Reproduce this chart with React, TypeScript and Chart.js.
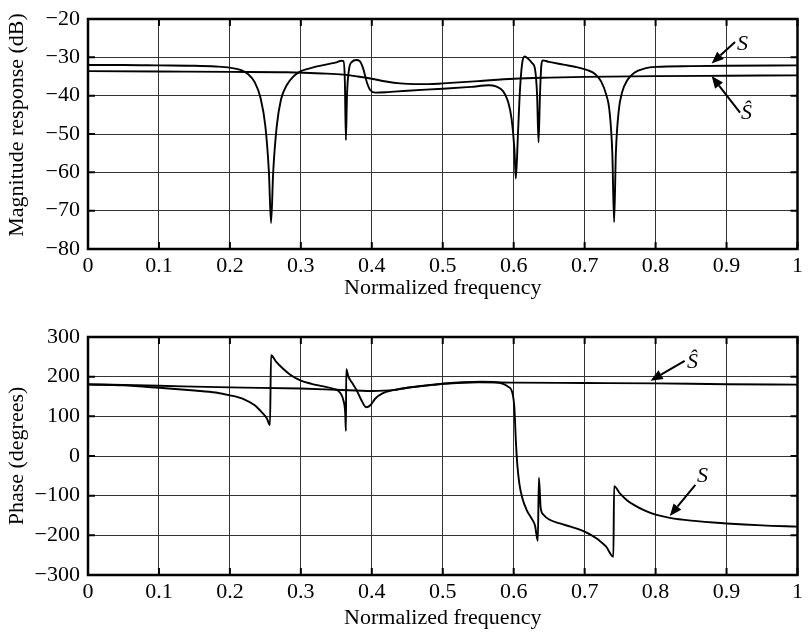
import React, { useEffect, useRef } from "react";
import { Chart, registerables } from "chart.js";

Chart.register(...registerables);

const FONT = "'Liberation Serif', 'Times New Roman', serif";

// ---- tick values ----
const freqTicks = [0, 0.1, 0.2, 0.3, 0.4, 0.5, 0.6, 0.7, 0.8, 0.9, 1];
const magTicks = [-80, -70, -60, -50, -40, -30, -20];
const phaseTicks = [-300, -200, -100, 0, 100, 200, 300];

// ---- magnitude response, S ----
const sMagFreq = [
  0, 0.05, 0.1, 0.15, 0.18, 0.2, 0.215, 0.225, 0.235, 0.243, 0.25, 0.255, 0.258, 0.261, 0.266, 0.272, 0.28,
  0.29, 0.3, 0.31, 0.32, 0.33, 0.34, 0.35, 0.357, 0.36, 0.362, 0.3635, 0.365, 0.368, 0.372, 0.378, 0.383,
  0.388, 0.393, 0.398, 0.405, 0.42, 0.45, 0.5, 0.54, 0.565, 0.575, 0.585, 0.592, 0.597, 0.601, 0.603, 0.606,
  0.609, 0.612, 0.6155, 0.62, 0.626, 0.63, 0.633, 0.635, 0.637, 0.639, 0.641, 0.65, 0.67, 0.69, 0.705, 0.715,
  0.723, 0.73, 0.735, 0.739, 0.7415, 0.744, 0.748, 0.753, 0.76, 0.77, 0.785, 0.8, 0.85, 0.9, 1.0,
];
const sMagDb = [
  -32.0, -32.0, -32.1, -32.2, -32.4, -32.7, -33.3, -34.3, -36.5, -40.5, -48, -60, -73.2, -60, -48, -41, -37.3,
  -34.9, -33.6, -33.0, -32.5, -32.1, -31.7, -31.3, -30.9, -31.0, -36, -51.6, -40, -33, -31.2, -30.7, -31.0,
  -33, -36.5, -38.6, -39.2, -39.1, -38.7, -38.2, -37.7, -37.3, -37.6, -38.8, -41.5, -46, -54, -61.6, -50,
  -38, -31.5, -29.8, -30.3, -31.5, -33, -40, -52.2, -40, -32, -30.8, -31.2, -31.9, -32.6, -33.4, -34.4,
  -36.2, -39.5, -44, -55, -73, -55, -44, -39, -36, -34, -32.9, -32.5, -32.3, -32.2, -32.1,
];

// ---- magnitude response, S-hat ----
const sHatMagFreq = [0, 0.1, 0.2, 0.28, 0.33, 0.36, 0.38, 0.4, 0.42, 0.44, 0.46, 0.48, 0.5, 0.55, 0.6, 0.65, 0.7, 0.8, 0.9, 1.0];
const sHatMagDb = [
  -33.6, -33.7, -33.8, -33.9, -34.2, -34.5, -35.0, -35.6, -36.3, -36.8, -37.0, -37.0, -36.8, -36.2, -35.6,
  -35.3, -35.1, -34.9, -34.8, -34.7,
];

// ---- phase, S ----
const sPhaseFreq = [
  0, 0.05, 0.1, 0.15, 0.18, 0.2, 0.22, 0.235, 0.245, 0.252, 0.2565, 0.258, 0.265, 0.275, 0.285, 0.3, 0.315,
  0.33, 0.345, 0.352, 0.357, 0.36, 0.3625, 0.3635, 0.364, 0.367, 0.372, 0.378, 0.385, 0.392, 0.398, 0.405,
  0.415, 0.43, 0.45, 0.5, 0.53, 0.555, 0.575, 0.585, 0.592, 0.598, 0.601, 0.603, 0.605, 0.608, 0.612, 0.618,
  0.625, 0.63, 0.634, 0.6355, 0.638, 0.642, 0.65, 0.665, 0.68, 0.695, 0.71, 0.72, 0.73, 0.7405, 0.7415, 0.75,
  0.76, 0.77, 0.785, 0.8, 0.82, 0.85, 0.9, 0.95, 1.0,
];
const sPhaseDeg = [
  180, 178, 172, 165, 160, 153, 143, 128, 110, 95, 78, 254, 238, 220, 205, 190, 182,
  176, 170, 165, 155, 140, 110, 63, 219, 200, 185, 168, 142, 123, 128, 145,
  158, 166, 172, 182, 186, 187, 186, 182, 175, 160, 120, 40, -20, -70, -105, -135,
  -157, -175, -214, -55, -130, -148, -160, -170, -178, -187, -200, -212, -228, -254, -76, -95,
  -112, -124, -138, -148, -156, -163, -170, -175, -178,
];

// ---- phase, S-hat ----
const sHatPhaseFreq = [0, 0.1, 0.2, 0.3, 0.35, 0.4, 0.43, 0.45, 0.48, 0.5, 0.55, 0.6, 0.7, 0.8, 0.9, 1.0];
const sHatPhaseDeg = [181, 177, 173, 170, 167, 164, 166, 172, 178, 182, 186, 185, 184, 183, 181, 180];

// ---- annotation arrows (data coordinates) ----
const magArrows = [
  { text: "S", labelX: 0.9225, labelY: -26.6, tailX: 0.912, tailY: -26.0, tipX: 0.879, tipY: -31.6 },
  { text: "\u015C", labelX: 0.928, labelY: -44.7, tailX: 0.919, tailY: -44.4, tipX: 0.879, tipY: -34.9 },
];
const phaseArrows = [
  { text: "\u015C", labelX: 0.852, labelY: 237, tailX: 0.841, tailY: 240, tipX: 0.793, tipY: 190 },
  { text: "S", labelX: 0.866, labelY: -52, tailX: 0.856, tailY: -73, tipX: 0.820, tipY: -151 },
];

type Arrow = { text: string; labelX: number; labelY: number; tailX: number; tailY: number; tipX: number; tipY: number };

function toPoints(xs: number[], ys: number[]) {
  return xs.map((x, i) => ({ x, y: ys[i] }));
}

function fmtFreq(v: number) {
  if (v === 0 || v === 1) return String(v);
  return v.toFixed(1);
}
function fmtSigned(v: number) {
  return v < 0 ? "\u2212" + Math.abs(v) : String(v);
}

function makeOverlay(arrows: Arrow[], yTitle: string, yTitleX: number, yTitleShift: number) {
  return {
    id: "overlay",
    afterDatasetsDraw(chart: any) {
      const { ctx, chartArea: a, scales } = chart;
      const xs = scales.x;
      const ys = scales.y;
      ctx.save();
      ctx.strokeStyle = "#000";
      ctx.fillStyle = "#000";
      // inner tick marks
      const L = 7;
      ctx.lineWidth = 2;
      ctx.beginPath();
      for (const t of xs.ticks) {
        const px = xs.getPixelForValue(t.value);
        ctx.moveTo(px, a.bottom);
        ctx.lineTo(px, a.bottom - L);
        ctx.moveTo(px, a.top);
        ctx.lineTo(px, a.top + L);
      }
      for (const t of ys.ticks) {
        const py = ys.getPixelForValue(t.value);
        ctx.moveTo(a.left, py);
        ctx.lineTo(a.left + L, py);
        ctx.moveTo(a.right, py);
        ctx.lineTo(a.right - L, py);
      }
      ctx.stroke();
      // frame
      ctx.lineWidth = 2.5;
      ctx.strokeRect(a.left, a.top, a.right - a.left, a.bottom - a.top);
      // arrows
      for (const ar of arrows) {
        const x1 = xs.getPixelForValue(ar.tailX);
        const y1 = ys.getPixelForValue(ar.tailY);
        const x2 = xs.getPixelForValue(ar.tipX);
        const y2 = ys.getPixelForValue(ar.tipY);
        const ang = Math.atan2(y2 - y1, x2 - x1);
        const head = 12;
        const hw = 5;
        const bx = x2 - head * Math.cos(ang);
        const by = y2 - head * Math.sin(ang);
        ctx.lineWidth = 2;
        ctx.beginPath();
        ctx.moveTo(x1, y1);
        ctx.lineTo(bx, by);
        ctx.stroke();
        ctx.beginPath();
        ctx.moveTo(x2, y2);
        ctx.lineTo(bx + hw * Math.sin(ang), by - hw * Math.cos(ang));
        ctx.lineTo(bx - hw * Math.sin(ang), by + hw * Math.cos(ang));
        ctx.closePath();
        ctx.fill();
        ctx.font = "italic 22px " + FONT;
        ctx.textAlign = "center";
        ctx.textBaseline = "middle";
        ctx.fillText(ar.text, xs.getPixelForValue(ar.labelX), ys.getPixelForValue(ar.labelY));
      }
      // y-axis title
      ctx.translate(yTitleX, (a.top + a.bottom) / 2 - yTitleShift);
      ctx.rotate(-Math.PI / 2);
      ctx.font = "22px " + FONT;
      ctx.textAlign = "center";
      ctx.textBaseline = "middle";
      ctx.fillText(yTitle, 0, 0);
      ctx.restore();
    },
  };
}

type Cfg = {
  padTop: number;
  xHeight: number;
  xTitlePad: number;
  yMin: number;
  yMax: number;
  yTicks: number[];
};

function makeOptions(cfg: Cfg): any {
  const tickFont = { family: FONT, size: 22, lineHeight: 1.0 };
  const titleFont = { family: FONT, size: 22 };
  return {
    animation: false,
    responsive: false,
    maintainAspectRatio: false,
    layout: { padding: { left: 0, right: 6, top: cfg.padTop, bottom: 0 } },
    plugins: { legend: { display: false }, tooltip: { enabled: false } },
    elements: {
      point: { radius: 0, hoverRadius: 0 },
      line: { borderWidth: 1.9, borderColor: "#000", cubicInterpolationMode: "monotone", fill: false },
    },
    scales: {
      x: {
        type: "linear",
        min: 0,
        max: 1,
        afterBuildTicks: (s: any) => {
          s.ticks = freqTicks.map((v) => ({ value: v }));
        },
        afterFit: (s: any) => {
          s.height = cfg.xHeight;
        },
        ticks: {
          callback: (v: number) => fmtFreq(v),
          font: tickFont,
          color: "#000",
          padding: 6,
          maxRotation: 0,
          autoSkip: false,
        },
        grid: { color: "#333", lineWidth: 1, drawTicks: false },
        border: { display: false },
        title: {
          display: true,
          text: "Normalized frequency",
          font: titleFont,
          color: "#000",
          padding: { top: 0, bottom: cfg.xTitlePad },
        },
      },
      y: {
        type: "linear",
        min: cfg.yMin,
        max: cfg.yMax,
        afterBuildTicks: (s: any) => {
          s.ticks = cfg.yTicks.map((v) => ({ value: v }));
        },
        afterFit: (s: any) => {
          s.width = 88;
        },
        ticks: {
          callback: (v: number) => fmtSigned(v),
          font: tickFont,
          color: "#000",
          padding: 8,
          autoSkip: false,
        },
        grid: { color: "#333", lineWidth: 1, drawTicks: false },
        border: { display: false },
        title: { display: false },
      },
    },
  };
}

export default function App() {
  const topRef = useRef<HTMLCanvasElement | null>(null);
  const botRef = useRef<HTMLCanvasElement | null>(null);

  useEffect(() => {
    const charts: Chart[] = [];
    if (topRef.current) {
      charts.push(
        new Chart(topRef.current, {
          type: "line",
          data: {
            datasets: [
              { label: "S", data: toPoints(sMagFreq, sMagDb) },
              { label: "\u015C", data: toPoints(sHatMagFreq, sHatMagDb) },
            ],
          },
          options: makeOptions({
            padTop: 12,
            xHeight: 69,
            xTitlePad: 17,
            yMin: -80,
            yMax: -20,
            yTicks: magTicks,
          }),
          plugins: [makeOverlay(magArrows, "Magnitude response (dB)", 17.5, 9)],
        } as any)
      );
    }
    if (botRef.current) {
      charts.push(
        new Chart(botRef.current, {
          type: "line",
          data: {
            datasets: [
              { label: "S", data: toPoints(sPhaseFreq, sPhaseDeg) },
              { label: "\u015C", data: toPoints(sHatPhaseFreq, sHatPhaseDeg) },
            ],
          },
          options: makeOptions({
            padTop: 19,
            xHeight: 61,
            xTitlePad: 5,
            yMin: -300,
            yMax: 300,
            yTicks: phaseTicks,
          }),
          plugins: [makeOverlay(phaseArrows, "Phase (degrees)", 17.5, 0)],
        } as any)
      );
    }
    return () => {
      charts.forEach((c) => c.destroy());
    };
  }, []);

  return (
    <div style={{ position: "absolute", left: 0, top: 0, width: 809, height: 636, background: "#fff" }}>
      <canvas ref={topRef} width={809} height={318} style={{ display: "block", width: 809, height: 318 }} />
      <canvas ref={botRef} width={809} height={318} style={{ display: "block", width: 809, height: 318 }} />
    </div>
  );
}
